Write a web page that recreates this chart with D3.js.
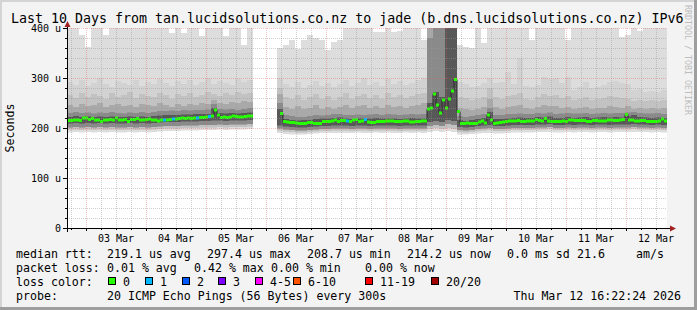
<!DOCTYPE html>
<html><head><meta charset="utf-8">
<script src="https://cdn.jsdelivr.net/npm/d3@7/dist/d3.min.js"></script>
<style>
body{margin:0;background:#fff}
svg text{font-family:"DejaVu Sans Mono",monospace;fill:#000}
</style>
</head><body>
<svg id="c" width="697" height="310"></svg>
<script>
// ---------------- data ----------------
const chartTitle = "Last 10 Days from tan.lucidsolutions.co.nz to jade (b.dns.lucidsolutions.co.nz) IPv6";
const yAxisTitle = "Seconds";
const watermark = "RRDTOOL / TOBI OETIKER";
const startTime = Date.UTC(2026, 2, 2, 16, 22, 24);
const endTime = Date.UTC(2026, 2, 12, 16, 22, 24);
const yMajorTicks = [0, 100, 200, 300, 400];
const yTickLabels = ["0", "100 u", "200 u", "300 u", "400 u"];
const yMinorStep = 20;

// median RTT (microseconds), 200 equal time slots
const medianRtt = [
215,215,216,216,215,220,220,217,219,216,
216,213,216,216,217,216,220,216,216,217,
213,217,217,219,216,216,217,218,216,216,
214,216,216,216,217,218,218,219,220,219,
220,219,220,220,221,221,222,223,224,236,
226,221,222,221,222,224,223,222,222,223,
224,224,null,null,null,null,null,null,null,null,
null,229,213,212,211,211,210,209,209,209,
211,211,209,209,209,213,213,213,214,216,
213,215,215,214,213,216,217,213,214,217,
212,211,211,213,213,213,214,214,214,213,
213,213,214,214,212,212,213,213,214,214,
238,240,268,246,230,256,240,258,274,297,
233,209,209,210,209,209,209,212,214,210,
226,216,209,210,211,212,213,214,214,214,
215,213,213,214,214,214,217,215,214,219,
214,213,213,213,213,214,213,216,216,215,
215,215,215,213,213,215,215,214,214,214,
216,216,215,215,216,217,227,216,216,214,
214,215,215,213,213,213,213,214,218,214];

// lost pings out of 20 per slot
const lossCount = [
0,0,0,0,0,0,0,0,0,0,
0,0,0,0,0,0,0,0,0,0,
0,0,0,0,0,0,0,0,0,0,
0,0,1,0,0,1,0,0,0,0,
0,0,0,1,0,0,0,1,0,0,
0,0,0,0,0,0,0,0,0,0,
0,0,null,null,null,null,null,null,null,null,
null,0,0,0,0,0,0,0,0,0,
0,0,0,0,0,0,0,0,0,0,
0,0,0,1,0,0,0,0,0,1,
0,0,0,0,0,0,0,0,0,0,
0,0,0,0,0,0,0,0,0,0,
0,0,0,0,0,0,0,0,0,0,
0,0,0,0,0,0,0,0,0,0,
0,0,0,0,0,0,0,0,0,0,
0,0,0,0,0,0,0,0,0,0,
0,0,0,0,0,0,0,0,0,0,
0,0,0,0,0,0,0,0,0,0,
0,0,0,0,0,0,0,0,0,0,
0,0,0,0,0,0,0,0,0,0];

// smoke percentiles (microseconds), 100 equal time slots
const smokeMax = [
420,420,386,362,420,420,386,420,420,420,420,420,420,420,420,420,420,390,420,390,420,420,384,420,420,420,384,420,420,366,420,
null,null,null,null,
360,366,376,358,376,386,380,376,356,372,376,420,420,420,420,420,392,392,420,392,394,420,420,420,376,
420,420,420,420,420,
366,362,360,420,370,420,420,420,420,420,420,420,376,420,420,420,420,420,376,420,420,420,420,420,420,420,420,382,386,420,394,420,420,420,420];
const smokeHi2 = [
292,286,296,284,290,300,288,282,294,290,286,296,284,292,288,298,290,284,294,288,296,286,292,300,288,294,290,286,298,292,296,
null,null,null,null,
300,288,282,292,280,286,294,284,290,282,288,296,284,290,300,286,292,284,298,288,294,286,290,296,300,
420,420,420,420,420,
292,288,282,284,290,300,290,292,312,288,340,284,282,286,302,298,300,290,302,276,282,292,280,282,286,292,294,290,288,276,278,272,274,272,276];
const smokeHi3 = [
266,260,270,262,268,264,258,270,262,266,272,260,268,264,262,270,266,258,268,264,270,262,266,272,268,264,270,266,272,268,270,
null,null,null,null,
280,262,258,266,256,262,268,258,264,256,262,270,258,264,268,260,266,258,270,262,266,260,264,268,270,
420,420,420,420,420,
262,260,256,258,262,280,262,258,264,266,270,258,256,262,268,264,266,260,264,256,258,262,256,258,260,264,262,260,258,254,256,254,256,254,256];
const smokeHi4 = [
246,242,248,244,246,250,242,246,248,244,246,242,248,246,244,250,246,242,248,244,248,246,250,248,256,250,248,252,250,254,252,
null,null,null,null,
268,242,238,244,238,240,246,238,242,238,242,246,240,244,246,240,244,240,246,242,244,240,244,246,250,
420,420,420,420,420,
240,238,236,238,242,258,242,238,242,244,246,240,238,242,246,244,244,240,242,238,240,242,238,240,240,244,242,240,244,238,240,238,240,238,240];
const smokeHi5 = [
230,232,230,231,229,231,230,232,230,229,231,230,232,230,232,234,234,235,234,236,235,236,236,237,248,238,237,238,236,238,240,
null,null,null,null,
250,226,224,222,222,224,226,225,226,228,228,226,226,227,226,227,228,226,228,227,226,227,228,227,228,
380,420,420,420,420,
224,222,224,226,228,240,226,226,228,228,229,228,228,230,229,231,228,229,230,229,229,230,228,229,230,229,230,230,231,232,230,229,229,230,228];
const smokeHi6 = [
222,224,222,223,222,223,222,223,222,222,223,222,223,222,224,225,226,226,226,227,227,228,228,228,240,230,229,230,229,230,231,
null,null,null,null,
238,218,216,215,216,216,218,219,219,220,221,219,218,219,219,219,220,219,219,219,218,219,220,219,219,
250,272,262,420,420,
216,214,216,218,220,232,218,218,219,220,221,220,220,222,221,223,220,220,222,220,221,222,220,221,222,221,222,221,223,226,222,221,220,221,220];
const smokeLo3 = [
209,210,209,210,209,210,209,210,209,209,210,209,210,209,210,211,212,212,212,213,213,213,214,214,215,215,214,215,215,215,216,
null,null,null,null,
205,203,202,201,201,202,203,204,204,205,205,205,204,205,205,204,205,205,205,205,204,205,205,205,205,
212,214,212,216,214,
202,201,202,204,205,206,204,204,205,206,206,206,206,207,207,208,206,206,207,206,207,207,206,207,207,206,207,207,207,208,207,207,206,207,206];
const smokeLo2 = [
201,202,201,202,201,202,201,202,201,201,202,201,202,201,202,203,204,204,204,205,205,205,206,206,206,207,206,207,207,207,208,
null,null,null,null,
199,197,196,195,195,196,197,198,198,199,199,199,198,199,199,198,199,199,199,199,198,199,199,199,199,
204,206,204,208,206,
196,195,196,198,199,200,198,198,199,200,200,200,200,201,201,202,200,200,201,200,201,201,200,201,201,200,201,201,201,202,201,201,200,201,200];
const smokeLo1 = [
196,197,196,197,196,197,196,197,196,196,197,196,197,196,197,198,199,199,199,200,200,200,201,201,201,202,201,202,202,202,203,
null,null,null,null,
195,193,192,191,191,192,193,194,194,195,195,195,194,195,195,194,195,195,195,195,194,195,195,195,195,
198,200,198,200,198,
192,191,192,194,195,196,194,194,195,196,196,196,196,197,197,198,196,196,197,196,197,197,196,197,197,196,197,197,197,198,197,197,196,197,196];
const smokeMin = [
191,192,191,192,191,192,191,192,191,191,192,191,192,191,192,193,194,194,194,195,195,195,196,196,196,197,196,197,197,197,198,
null,null,null,null,
190,188,187,187,187,188,189,190,190,190,190,190,190,191,190,190,191,190,191,190,190,191,190,191,190,
192,194,192,194,192,
187,187,188,189,190,190,189,189,190,191,191,191,191,192,192,192,191,191,192,191,192,192,191,192,192,191,192,192,192,192,192,192,191,192,191];

// legend
const lossLabels = ["0", "1", "2", "3", "4-5", "6-10", "11-19", "20/20"];
const lossMaxCount = [0, 1, 2, 3, 5, 10, 19, 20];
const lossColors = ["#26ff00", "#00b8ff", "#0059ff", "#7e00ff", "#ff00ff", "#ff5500", "#ff0000", "#a10000"];
const rttLegend = ["median rtt:", "219.1 us avg", "297.4 us max", "208.7 us min", "214.2 us now", "0.0 ms sd", "21.6", "am/s"];
const lossLegend = ["packet loss:", "0.01 % avg", "0.42 % max", "0.00 % min", "0.00 % now"];
const lossColorLabel = "loss color:";
const probeLegend = ["probe:", "20 ICMP Echo Pings (56 Bytes) every 300s"];
const stampText = "Thu Mar 12 16:22:24 2026";

// ---------------- layout ----------------
const W = 697, H = 310;
const plot = {left: 67, right: 667, top: 28, bottom: 228};
const rttX = [16, 107, 207, 307, 407, 507, 577, 636];
const lossX = [16, 107, 194, 271, 365];
const boxX = [108, 145, 182, 218, 255, 293, 365, 431];
const rowY = [258, 272, 286, 300];

const svg = d3.select("#c");
const x = d3.scaleUtc().domain([startTime, endTime]).range([plot.left, plot.right]);
const y = d3.scaleLinear().domain([0, 400]).range([plot.bottom, plot.top]);

// background and frame
svg.append("rect").attr("width", W).attr("height", H).attr("fill", "#f3f3f3");
svg.append("rect").attr("x", 0).attr("y", 0).attr("width", W).attr("height", 2).attr("fill", "#d4d4d4");
svg.append("rect").attr("x", 0).attr("y", 0).attr("width", 2).attr("height", H).attr("fill", "#d4d4d4");
svg.append("rect").attr("x", 0).attr("y", H - 3).attr("width", W).attr("height", 3).attr("fill", "#9e9e9e");
svg.append("rect").attr("x", W - 3).attr("y", 0).attr("width", 3).attr("height", H).attr("fill", "#9e9e9e");

// canvas
svg.append("rect").attr("x", plot.left).attr("y", plot.top)
  .attr("width", plot.right - plot.left).attr("height", plot.bottom - plot.top).attr("fill", "#fff");

svg.append("defs").append("clipPath").attr("id", "pc").append("rect")
  .attr("x", plot.left).attr("y", plot.top)
  .attr("width", plot.right - plot.left).attr("height", plot.bottom - plot.top);
const g = svg.append("g").attr("clip-path", "url(#pc)");

function slotPoints(lo, hi) {
  const n = lo.length, step = (endTime - startTime) / n, pts = [];
  for (let i = 0; i < n; i++) {
    const ok = lo[i] != null && hi[i] != null;
    pts.push({t: startTime + i * step, lo: lo[i], hi: hi[i], ok});
    pts.push({t: startTime + (i + 1) * step, lo: lo[i], hi: hi[i], ok});
  }
  return pts;
}
const bandArea = d3.area().defined(d => d.ok)
  .x(d => x(d.t)).y0(d => y(d.lo)).y1(d => y(Math.min(d.hi, 410)));

const bands = [
  [smokeMin, smokeMax, "#dddddd"],
  [smokeLo1, smokeHi2, "#d2d2d2"],
  [smokeLo1, smokeHi3, "#c2c2c2"],
  [smokeLo2, smokeHi4, "#a9a9a9"],
  [smokeLo2, smokeHi5, "#8a8a8a"],
  [smokeLo3, smokeHi6, "#585858"]
];
bands.forEach(([lo, hi, c]) => {
  g.append("path").attr("d", bandArea(slotPoints(lo, hi))).attr("fill", c);
});

// grid (drawn over the smoke)
const gridG = svg.append("g");
const dayTicks = d3.utcDay.range(startTime, endTime);
const hourTicks = d3.utcHour.every(6).range(startTime, endTime).filter(d => d.getUTCHours() !== 0);
const yMinor = d3.range(0, 401, yMinorStep).filter(v => v % 100 !== 0);
const minorC = "rgba(150,150,150,0.45)", majorC = "rgba(235,90,90,0.38)";
hourTicks.forEach(d => gridG.append("line")
  .attr("x1", Math.round(x(d)) + 0.5).attr("x2", Math.round(x(d)) + 0.5)
  .attr("y1", plot.top).attr("y2", plot.bottom)
  .attr("stroke", minorC).attr("stroke-dasharray", "1,1"));
yMinor.forEach(v => gridG.append("line")
  .attr("x1", plot.left).attr("x2", plot.right)
  .attr("y1", Math.round(y(v)) + 0.5).attr("y2", Math.round(y(v)) + 0.5)
  .attr("stroke", minorC).attr("stroke-dasharray", "1,1"));
dayTicks.forEach(d => gridG.append("line")
  .attr("x1", Math.round(x(d)) + 0.5).attr("x2", Math.round(x(d)) + 0.5)
  .attr("y1", plot.top).attr("y2", plot.bottom)
  .attr("stroke", majorC).attr("stroke-dasharray", "1,1"));
yMajorTicks.filter(v => v > 0).forEach(v => gridG.append("line")
  .attr("x1", plot.left).attr("x2", plot.right)
  .attr("y1", Math.round(y(v)) + 0.5).attr("y2", Math.round(y(v)) + 0.5)
  .attr("stroke", majorC).attr("stroke-dasharray", "1,1"));

// median line
const mStep = (endTime - startTime) / medianRtt.length;
const medPts = [];
medianRtt.forEach((v, i) => {
  medPts.push({t: startTime + i * mStep, v});
  medPts.push({t: startTime + (i + 1) * mStep, v});
});
g.append("path")
  .attr("d", d3.line().defined(d => d.v != null).x(d => x(d.t)).y(d => y(d.v))(medPts))
  .attr("fill", "none").attr("stroke", "#2a2a2a").attr("stroke-width", 1);
function lossColor(n) {
  for (let i = 0; i < lossMaxCount.length; i++) if (n <= lossMaxCount[i]) return lossColors[i];
  return lossColors[lossColors.length - 1];
}
medianRtt.forEach((v, i) => {
  if (v == null) return;
  const x0 = x(startTime + i * mStep), x1 = x(startTime + (i + 1) * mStep);
  g.append("rect").attr("x", x0).attr("width", x1 - x0)
    .attr("y", y(v) - 1.5).attr("height", 3).attr("fill", lossColor(lossCount[i]));
});

// axes
const axC = "#000", arrowC = "#a32020";
svg.append("line").attr("x1", plot.left + 0.5).attr("x2", plot.left + 0.5)
  .attr("y1", plot.bottom + 4).attr("y2", plot.top - 2).attr("stroke", axC);
svg.append("line").attr("x1", plot.left - 4).attr("x2", plot.right + 4)
  .attr("y1", plot.bottom + 0.5).attr("y2", plot.bottom + 0.5).attr("stroke", axC);
svg.append("path").attr("d", `M${plot.left + 0.5},${plot.top - 7} L${plot.left - 2.5},${plot.top - 1} L${plot.left + 3.5},${plot.top - 1} Z`).attr("fill", arrowC);
svg.append("path").attr("d", `M${plot.right + 9},${plot.bottom + 0.5} L${plot.right + 3},${plot.bottom - 2.5} L${plot.right + 3},${plot.bottom + 3.5} Z`).attr("fill", arrowC);
yMinor.forEach(v => svg.append("line").attr("x1", plot.left - 2).attr("x2", plot.left)
  .attr("y1", Math.round(y(v)) + 0.5).attr("y2", Math.round(y(v)) + 0.5).attr("stroke", axC));
yMajorTicks.forEach(v => svg.append("line").attr("x1", plot.left - 4).attr("x2", plot.left)
  .attr("y1", Math.round(y(v)) + 0.5).attr("y2", Math.round(y(v)) + 0.5).attr("stroke", axC));
hourTicks.forEach(d => svg.append("line").attr("x1", Math.round(x(d)) + 0.5).attr("x2", Math.round(x(d)) + 0.5)
  .attr("y1", plot.bottom).attr("y2", plot.bottom + 2).attr("stroke", axC));
dayTicks.forEach(d => svg.append("line").attr("x1", Math.round(x(d)) + 0.5).attr("x2", Math.round(x(d)) + 0.5)
  .attr("y1", plot.bottom).attr("y2", plot.bottom + 3).attr("stroke", axC));

// axis labels
yMajorTicks.forEach((v, i) => svg.append("text").attr("x", 61).attr("y", y(v) + 4)
  .attr("text-anchor", "end").attr("font-size", 10).text(yTickLabels[i]));
const fmt = d3.utcFormat("%d %b");
dayTicks.map(d => d3.utcHour.offset(d, 12)).filter(d => +d < endTime).forEach(d =>
  svg.append("text").attr("x", x(d)).attr("y", 241.5).attr("text-anchor", "middle")
    .attr("font-size", 10).text(fmt(d)));
svg.append("text").attr("transform", `translate(14,${(plot.top + plot.bottom) / 2}) rotate(-90)`)
  .attr("text-anchor", "middle").attr("font-size", 11.6).text(yAxisTitle);
svg.append("text").attr("transform", `translate(684.5,5) rotate(90)`)
  .attr("font-size", 8.3).style("fill", "#bdbdbd").text(watermark);

// title
svg.append("text").attr("x", 11).attr("y", 22.5).attr("font-size", 13.3).text(chartTitle);

// legend
const LF = 11.6;
rttLegend.forEach((s, i) => svg.append("text").attr("x", rttX[i]).attr("y", rowY[0]).attr("font-size", LF).text(s));
lossLegend.forEach((s, i) => svg.append("text").attr("x", lossX[i]).attr("y", rowY[1]).attr("font-size", LF).text(s));
svg.append("text").attr("x", 16).attr("y", rowY[2]).attr("font-size", LF).text(lossColorLabel);
lossLabels.forEach((s, i) => {
  svg.append("rect").attr("x", boxX[i] + 0.5).attr("y", rowY[2] - 8.5).attr("width", 7).attr("height", 7)
    .attr("fill", lossColors[i]).attr("stroke", "#000");
  svg.append("text").attr("x", boxX[i] + 15).attr("y", rowY[2]).attr("font-size", LF).text(s);
});
svg.append("text").attr("x", 16).attr("y", rowY[3]).attr("font-size", LF).text(probeLegend[0]);
svg.append("text").attr("x", 107).attr("y", rowY[3]).attr("font-size", LF).text(probeLegend[1]);
svg.append("text").attr("x", 681).attr("y", rowY[3]).attr("text-anchor", "end").attr("font-size", LF).text(stampText);
</script>
</body></html>
